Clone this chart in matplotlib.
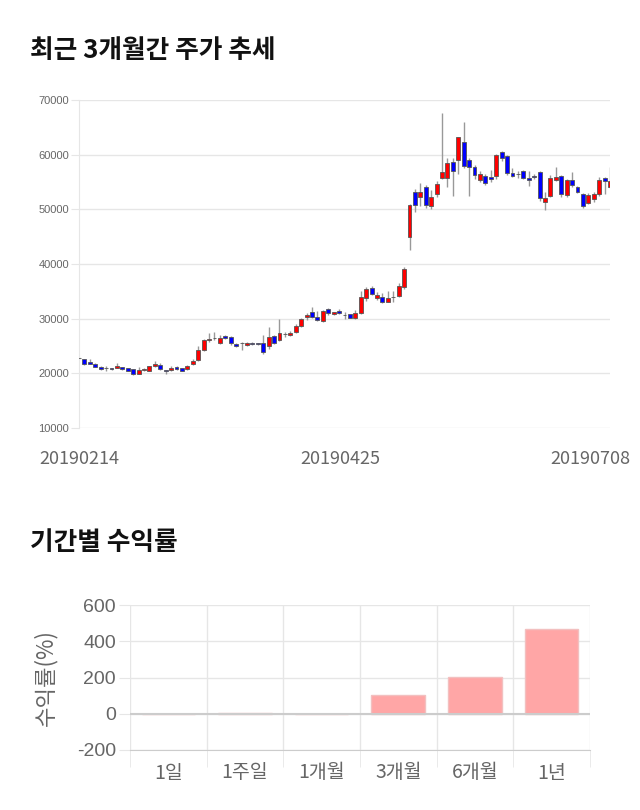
import numpy as np
import matplotlib
matplotlib.use("Agg")
import matplotlib.pyplot as plt
import matplotlib.transforms as mtransforms

plt.rcParams['font.family'] = ['Noto Sans CJK KR', 'DejaVu Sans']
plt.rcParams['axes.unicode_minus'] = False

# 주가 데이터 (시가, 고가, 저가, 종가) - 2019.02.14 ~ 2019.07.08
opens = [22750, 22600, 22030, 21660, 21220, 20930, 20900, 21040, 21100, 20900,
         20750, 19900, 20650, 20500, 21330, 21500, 20600, 20600, 21200, 20900,
         20800, 21700, 22400, 24270, 26100, 26400, 25580, 26800, 26600, 25450,
         25500, 25150, 25600, 25450, 25630, 25000, 26800, 26050, 27150, 27100,
         27500, 28600, 30300, 31150, 30250, 29630, 31720, 30940, 31400, 30700,
         30800, 30200, 30990, 33730, 35560, 33730, 34030, 33120, 33950, 34210,
         35850, 45000, 53230, 52210, 54160, 50610, 52810, 55800, 55700, 58600,
         59030, 62260, 59030, 57800, 55370, 56100, 56000, 56160, 60440, 59820,
         56600, 56400, 57070, 55800, 56170, 56890, 51310, 52510, 55440, 56100,
         52620, 55370, 54090, 52750, 51120, 51880, 52750, 55800, 54160]
highs = [22900, 22700, 22600, 21800, 21300, 21300, 21000, 21800, 21200, 21000,
         20800, 21200, 20900, 21400, 22200, 21800, 20700, 21400, 21300, 21000,
         21500, 22600, 25000, 26300, 27400, 27600, 27000, 27000, 26900, 25600,
         25800, 25700, 25700, 25600, 27000, 28400, 27000, 29900, 27500, 27700,
         29100, 30200, 31100, 32100, 31400, 31500, 31900, 31300, 31800, 31200,
         30900, 31600, 35000, 35800, 35900, 34900, 34700, 35000, 35100, 36600,
         39500, 51000, 53800, 54800, 54500, 53600, 55200, 67560, 59300, 59300,
         63300, 66030, 59400, 58200, 57000, 56400, 57200, 60200, 60700, 59900,
         57600, 57000, 57200, 57100, 56500, 57000, 53200, 56200, 57700, 56200,
         55500, 56800, 54300, 52900, 52900, 53100, 56000, 56000, 57800]
lows = [22600, 21500, 21700, 21100, 20700, 20400, 20600, 20900, 20600, 20400,
        19700, 19800, 20500, 20400, 21200, 20600, 19900, 20500, 20700, 20400,
        20700, 21600, 22200, 24000, 25700, 26100, 25400, 26200, 25200, 24900,
        24300, 25000, 25200, 25200, 23600, 24500, 25400, 25900, 26700, 26900,
        27300, 28400, 29700, 30100, 29600, 29400, 30700, 30600, 30800, 30000,
        30100, 30000, 30800, 33200, 34300, 33400, 32900, 33000, 33000, 34000,
        35500, 42560, 49500, 50700, 50200, 50000, 52300, 55600, 54000, 52400,
        56400, 57600, 52400, 55500, 55000, 54500, 55000, 55600, 58900, 56300,
        55900, 55800, 55500, 54200, 55600, 51500, 49880, 52300, 55100, 52300,
        52200, 54100, 52900, 50300, 50900, 51400, 52500, 52800, 53900]
closes = [22750, 21700, 21780, 21220, 20850, 20900, 20750, 21280, 20750, 20500,
          19830, 20680, 20700, 21330, 21700, 20750, 20350, 21050, 20800, 20500,
          21330, 22200, 24270, 26050, 26200, 26450, 26420, 26400, 25500, 25000,
          25500, 25600, 25300, 25400, 23930, 26600, 25600, 27400, 27200, 27400,
          28600, 29950, 30700, 30300, 29800, 31410, 30990, 31250, 31000, 30680,
          30200, 31000, 34030, 35380, 34520, 34330, 33120, 33730, 34030, 35980,
          39030, 50800, 50800, 53120, 50800, 52320, 54640, 56780, 58420, 57010,
          63180, 58000, 57800, 56280, 56400, 54760, 55600, 59940, 59340, 56600,
          56170, 56410, 55680, 55440, 55930, 52030, 52150, 55800, 55930, 52810,
          55310, 54460, 53230, 50680, 52620, 52750, 55370, 55190, 55190]
date_labels = ['20190214', '20190425', '20190708']
date_index = [0, 49, 98]

# 기간별 수익률
periods = ['1일', '1주일', '1개월', '3개월', '6개월', '1년']
returns = [0.0, 2.0, 0.5, 105.0, 205.0, 468.0]

gray_text = '#666666'
grid_color = '#e6e6e6'
num_font = ['Liberation Sans', 'DejaVu Sans']

fig = plt.figure(figsize=(6.4, 8.1), dpi=100)

fig.text(30 / 640, 1 - 50 / 810, '최근 3개월간 주가 추세', fontsize=18.5,
         fontweight='bold', color='#111111', va='center', ha='left')
fig.text(30 / 640, 1 - 543 / 810, '기간별 수익률', fontsize=18.5,
         fontweight='bold', color='#111111', va='center', ha='left')

# ---- 캔들 차트 ----
ax = fig.add_axes([79 / 640, 1 - 428 / 810, 531 / 640, 328 / 810])
o = np.array(opens)
h = np.array(highs)
l = np.array(lows)
c = np.array(closes)
x = np.arange(len(o))
up = c >= o
cols = np.where(up, '#ff0000', '#0000ff')
body_bottom = np.minimum(o, c)
body_height = np.maximum(np.abs(c - o), 80)

ax.vlines(x, l, h, color='#999999', linewidth=1, zorder=2)
ax.bar(x, body_height, bottom=body_bottom, width=0.72, color=cols,
       edgecolor='#555555', linewidth=0.6, zorder=3)

ax.set_xlim(0, len(o) - 1)
ax.set_ylim(10000, 70000)
ax.set_yticks(range(10000, 70001, 10000))
ax.grid(axis='y', color=grid_color, linewidth=1)
ax.set_axisbelow(True)
for s in ['top', 'right', 'bottom']:
    ax.spines[s].set_visible(False)
ax.spines['left'].set_color(grid_color)
ax.tick_params(axis='y', labelsize=8, labelcolor=gray_text, color=grid_color,
               length=6, pad=1)
for t in ax.get_yticklabels():
    t.set_family(num_font)
ax.set_xticks(date_index)
ax.set_xticklabels(date_labels)
ax.tick_params(axis='x', labelsize=13, labelcolor=gray_text, length=0, pad=16)
first = ax.get_xticklabels()[1]
first.set_transform(first.get_transform() +
                    mtransforms.ScaledTranslation(-0.04, 0, fig.dpi_scale_trans))
last = ax.get_xticklabels()[-1]
last.set_transform(last.get_transform() +
                   mtransforms.ScaledTranslation(-0.2, 0, fig.dpi_scale_trans))

# ---- 수익률 막대 ----
ax2 = fig.add_axes([130 / 640, 1 - 750 / 810, 460 / 640, 145 / 810])
xp = np.arange(len(periods))
ax2.bar(xp, returns, width=0.7, color='#ffa6a6', edgecolor='#f2c0c0',
        linewidth=1, zorder=3)
ax2.axhline(0, color='#cccccc', linewidth=1.5, zorder=4)
ax2.set_xlim(-0.5, len(periods) - 0.5)
ax2.set_ylim(-200, 600)
ax2.set_yticks([-200, 0, 200, 400, 600])
ax2.set_xticks(xp)
ax2.set_xticklabels(periods)
ax2.set_xticks(np.arange(-0.5, len(periods)), minor=True)
ax2.grid(axis='y', color=grid_color, linewidth=1)
ax2.grid(axis='x', which='minor', color=grid_color, linewidth=1)
ax2.set_axisbelow(True)
for s in ['top', 'right', 'left']:
    ax2.spines[s].set_visible(False)
ax2.spines['bottom'].set_color('#cccccc')
ax2.tick_params(axis='x', which='major', length=0, labelsize=14,
                labelcolor=gray_text, pad=9)
ax2.tick_params(axis='x', which='minor', length=12, color=grid_color)
ax2.tick_params(axis='y', labelsize=14, labelcolor=gray_text, color=grid_color,
                length=8, pad=2)
for t in ax2.get_yticklabels():
    t.set_family(num_font)
ax2.set_ylabel('수익률(%)', fontsize=16, color=gray_text, labelpad=14)

fig.savefig('out.png', dpi=100)
